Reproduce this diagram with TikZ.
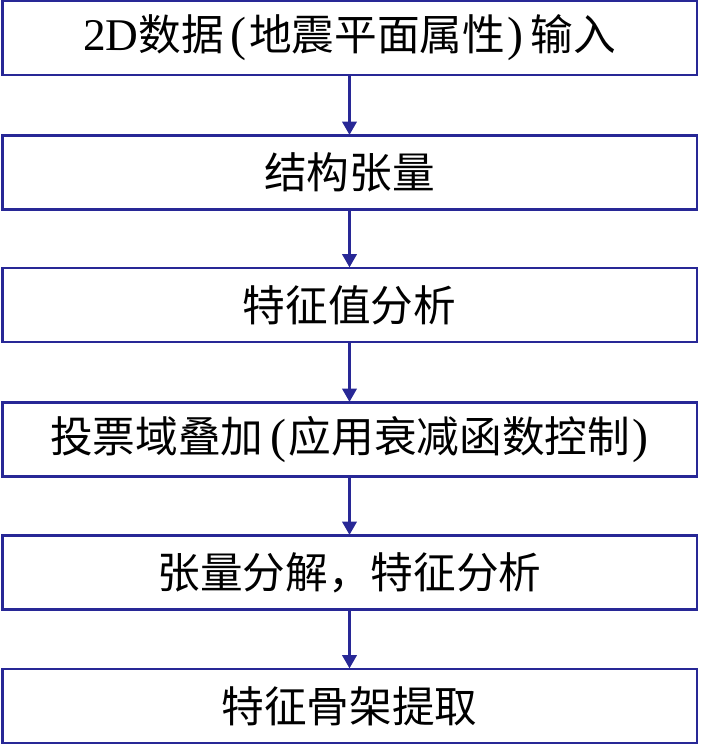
\documentclass[tikz,border=0pt]{standalone}
\usepackage{fontspec}
\setmainfont{Liberation Serif}
\newfontfamily\cjk{Noto Sans CJK SC}
\usetikzlibrary{arrows.meta}
\definecolor{navy}{RGB}{40,40,150}
\newcommand{\lp}{\hspace{5pt}{\rmfamily\fontsize{36}{36}\selectfont (}\hspace{2pt}}
\newcommand{\rp}{\hspace{2pt}{\rmfamily\fontsize{36}{36}\selectfont )}\hspace{5pt}}
\tikzset{
  stepbox/.style={draw=navy, line width=2pt, fill=white, minimum width=521pt, minimum height=55.5pt, inner sep=0pt, font=\fontsize{32}{36}\selectfont\cjk},
  flow/.style={draw=navy, line width=1.6pt, -{Triangle[length=10pt,width=11pt]}, shorten >=-0.5pt}
}
\begin{document}
\begin{tikzpicture}[x=0.75pt,y=-0.75pt]
\useasboundingbox (0,0) rectangle (700,746);
\node[stepbox] (b1) at (349.5,38) {{\rmfamily\fontsize{34}{36}\selectfont 2D}数据\lp 地震平面属性\rp 输入};
\node[stepbox] (b2) at (349.5,172.5) {结构张量};
\node[stepbox] (b3) at (349.5,305) {特征值分析};
\node[stepbox] (b4) at (349.5,439.5) {投票域叠加\lp 应用衰减函数控制\rp};
\node[stepbox] (b5) at (349.5,572.5) {张量分解，特征分析};
\node[stepbox] (b6) at (349.5,706) {特征骨架提取};
\draw[flow] (b1.south) -- (b2.north);
\draw[flow] (b2.south) -- (b3.north);
\draw[flow] (b3.south) -- (b4.north);
\draw[flow] (b4.south) -- (b5.north);
\draw[flow] (b5.south) -- (b6.north);
\end{tikzpicture}
\end{document}
